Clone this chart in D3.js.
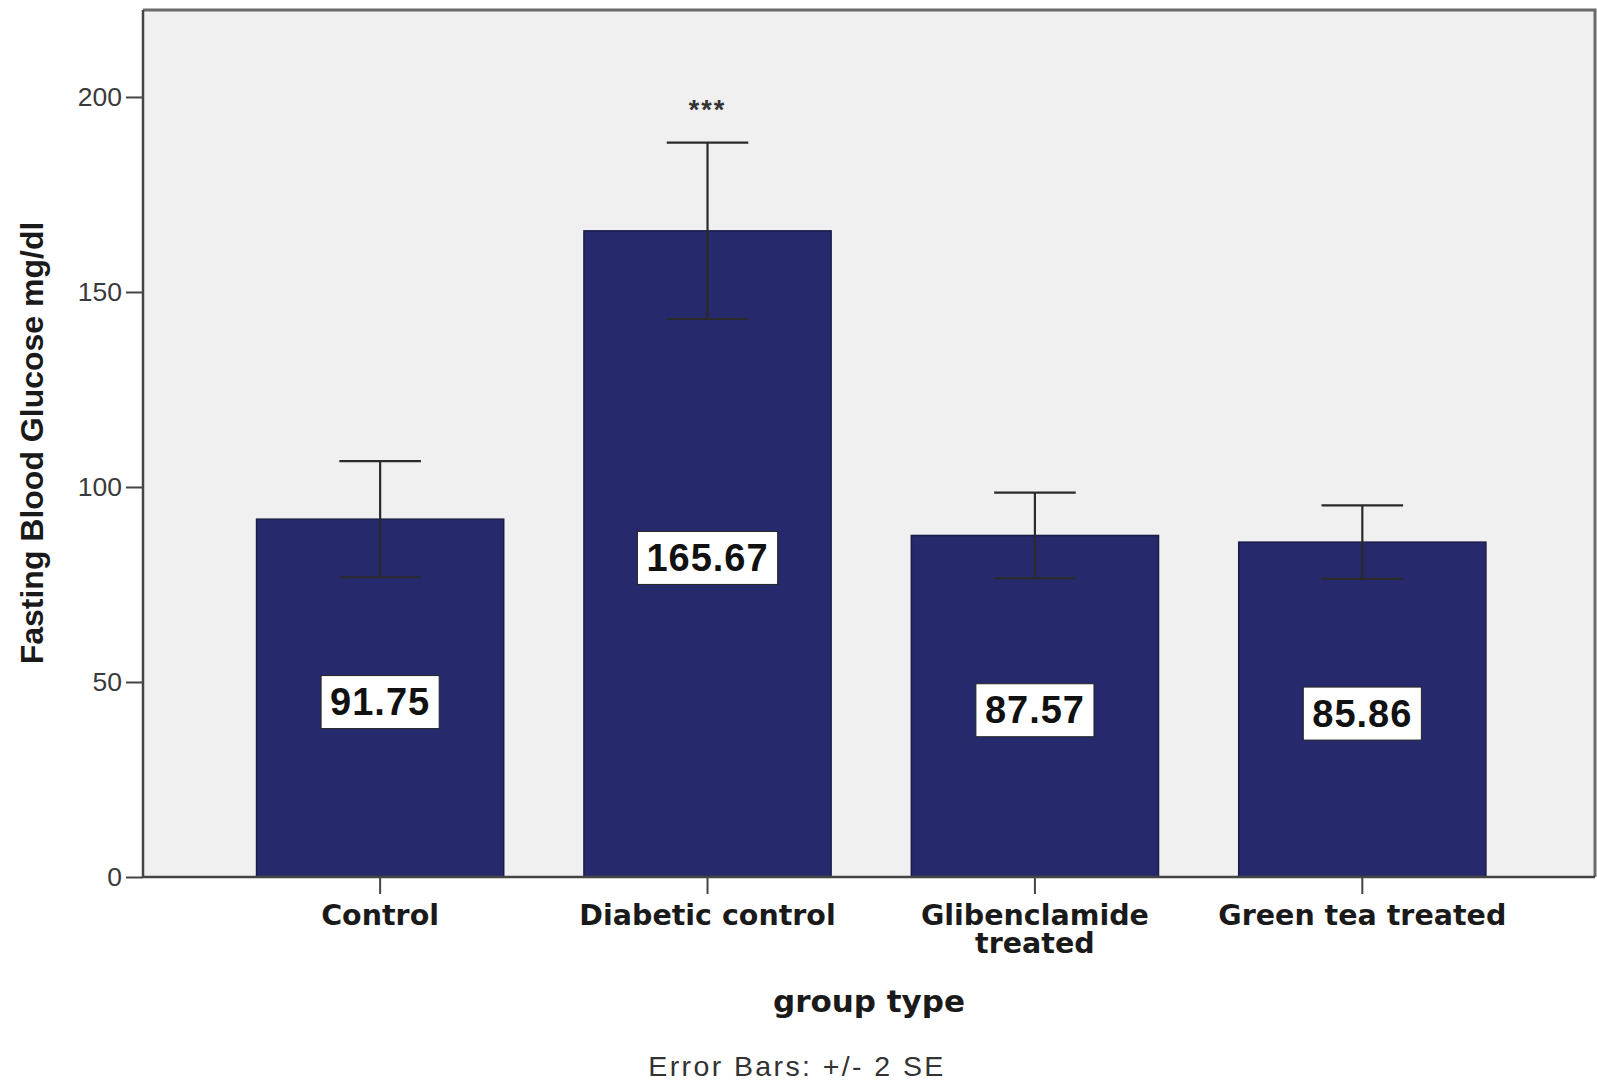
<!DOCTYPE html>
<html>
<head>
<meta charset="utf-8">
<script src="https://cdn.jsdelivr.net/npm/d3@7"></script>
<style>
  html, body { margin: 0; padding: 0; background: #ffffff; }
  svg { display: block; }
</style>
</head>
<body>
<svg id="chart" width="1597" height="1083"></svg>
<script>
// Fasting blood glucose by treatment group (mean, error bars = ±2 SE)
const categories = ["Control", "Diabetic control", "Glibenclamide treated", "Green tea treated"];
const categoryLines = [["Control"], ["Diabetic control"], ["Glibenclamide", "treated"], ["Green tea treated"]];
const meanGlucose = [91.75, 165.67, 87.57, 85.86];
const twoSE = [14.9, 22.6, 11.0, 9.4];
const significance = ["", "***", "", ""];
const yTicks = [0, 50, 100, 150, 200];

const svg = d3.select("#chart");

const plot = { left: 143, right: 1595, top: 10, bottom: 877 };

const x = d3.scaleBand()
  .domain(categories)
  .range([plot.left, plot.right])
  .paddingInner(0.245)
  .paddingOuter(0.34)
  .align(0.51);

const y = d3.scaleLinear()
  .domain([0, 222.3])
  .range([plot.bottom, plot.top]);

// plot background
svg.append("rect")
  .attr("x", plot.left).attr("y", plot.top)
  .attr("width", plot.right - plot.left).attr("height", plot.bottom - plot.top)
  .attr("fill", "#f0f0f0");

// top and right frame
svg.append("path")
  .attr("d", `M${plot.left},${plot.top}H${plot.right}V${plot.bottom}`)
  .attr("fill", "none").attr("stroke", "#6a6a6a").attr("stroke-width", 3);

// bars
svg.append("g").selectAll("rect")
  .data(categories)
  .join("rect")
  .attr("x", d => x(d))
  .attr("width", x.bandwidth())
  .attr("y", (d, i) => y(meanGlucose[i]))
  .attr("height", (d, i) => y(0) - y(meanGlucose[i]))
  .attr("fill", "#262a6c")
  .attr("stroke", "#1a1c48")
  .attr("stroke-width", 1.5);

// error bars
const capHalf = x.bandwidth() * 0.165;
const eb = svg.append("g").attr("stroke", "#2a2a2a").attr("stroke-width", 2.2).attr("fill", "none");
categories.forEach((c, i) => {
  const cx = x(c) + x.bandwidth() / 2;
  const hi = y(meanGlucose[i] + twoSE[i]);
  const lo = y(meanGlucose[i] - twoSE[i]);
  eb.append("line").attr("x1", cx).attr("x2", cx).attr("y1", hi).attr("y2", lo);
  eb.append("line").attr("x1", cx - capHalf).attr("x2", cx + capHalf).attr("y1", hi).attr("y2", hi);
  eb.append("line").attr("x1", cx - capHalf).attr("x2", cx + capHalf).attr("y1", lo).attr("y2", lo);
});

// significance markers
svg.append("g").selectAll("text")
  .data(categories)
  .join("text")
  .attr("x", d => x(d) + x.bandwidth() / 2)
  .attr("y", (d, i) => y(meanGlucose[i] + twoSE[i]) - 24)
  .attr("text-anchor", "middle")
  .attr("font-family", "Liberation Sans, Arial, sans-serif")
  .attr("font-weight", "bold")
  .attr("font-size", 27)
  .attr("letter-spacing", 2)
  .attr("fill", "#333")
  .text((d, i) => significance[i]);

// value labels in white boxes, centred on the bar middle
const labels = svg.append("g");
categories.forEach((c, i) => {
  const cx = x(c) + x.bandwidth() / 2;
  const cy = y(meanGlucose[i] / 2) + 4;
  const g = labels.append("g");
  const t = g.append("text")
    .attr("x", cx).attr("y", cy)
    .attr("text-anchor", "middle")
    .attr("dominant-baseline", "central")
    .attr("font-family", "Liberation Sans, Arial, sans-serif")
    .attr("font-weight", "bold")
    .attr("font-size", 38)
    .attr("letter-spacing", 1)
    .attr("fill", "#111")
    .text(meanGlucose[i].toFixed(2));
  const bb = t.node().getBBox();
  g.insert("rect", "text")
    .attr("x", cx - bb.width / 2 - 9)
    .attr("y", cy - 26.5)
    .attr("width", bb.width + 18)
    .attr("height", 53)
    .attr("fill", "#ffffff")
    .attr("stroke", "#222")
    .attr("stroke-width", 1);
});

// y axis
const yAxis = svg.append("g")
  .attr("transform", `translate(${plot.left},0)`)
  .call(d3.axisLeft(y).tickValues(yTicks).tickSize(17).tickPadding(4).tickFormat(d3.format("d")));
yAxis.select(".domain").attr("stroke", "#444").attr("stroke-width", 2.5)
  .attr("d", `M0,${plot.top}V${plot.bottom}`);
yAxis.selectAll(".tick line").attr("stroke", "#444").attr("stroke-width", 2);
yAxis.selectAll(".tick text")
  .attr("font-family", "Liberation Sans, Arial, sans-serif")
  .attr("font-size", 26.5)
  .attr("fill", "#3a3a3a");

// x axis
const xAxis = svg.append("g")
  .attr("transform", `translate(0,${plot.bottom})`)
  .call(d3.axisBottom(x).tickSize(17).tickFormat(""));
xAxis.select(".domain").attr("stroke", "#444").attr("stroke-width", 2.5)
  .attr("d", `M${plot.left},0H${plot.right}`);
xAxis.selectAll(".tick line").attr("stroke", "#444").attr("stroke-width", 2);

// category labels (bold, possibly two lines)
svg.append("g").selectAll("text")
  .data(categories)
  .join("text")
  .attr("x", d => x(d) + x.bandwidth() / 2)
  .attr("y", 925)
  .attr("text-anchor", "middle")
  .attr("font-family", "DejaVu Sans, Verdana, sans-serif")
  .attr("font-weight", "bold")
  .attr("font-size", 28.5)
  .attr("fill", "#1a1a1a")
  .each(function(d, i) {
    const el = d3.select(this);
    categoryLines[i].forEach((line, k) => {
      el.append("tspan")
        .attr("x", x(d) + x.bandwidth() / 2)
        .attr("dy", k === 0 ? 0 : 28)
        .text(line);
    });
  });

// axis titles
svg.append("text")
  .attr("x", (plot.left + plot.right) / 2)
  .attr("y", 1012)
  .attr("text-anchor", "middle")
  .attr("font-family", "DejaVu Sans, Verdana, sans-serif")
  .attr("font-weight", "bold")
  .attr("font-size", 31)
  .attr("fill", "#1a1a1a")
  .text("group type");

svg.append("text")
  .attr("transform", "translate(43,443) rotate(-90)")
  .attr("text-anchor", "middle")
  .attr("font-family", "Liberation Sans, Arial, sans-serif")
  .attr("font-weight", "bold")
  .attr("font-size", 32)
  .attr("fill", "#1a1a1a")
  .text("Fasting Blood Glucose mg/dl");

svg.append("text")
  .attr("x", 797)
  .attr("y", 1076)
  .attr("text-anchor", "middle")
  .attr("font-family", "Liberation Sans, Arial, sans-serif")
  .attr("font-size", 28.5)
  .attr("letter-spacing", 2.4)
  .attr("fill", "#333")
  .text("Error Bars:  +/- 2 SE");
</script>
</body>
</html>
